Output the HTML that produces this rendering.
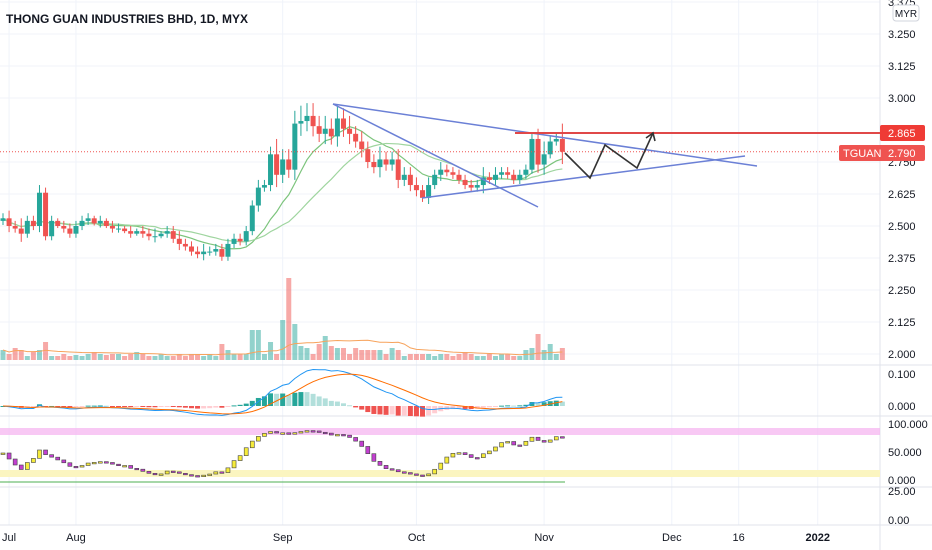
<!DOCTYPE html>
<html><head><meta charset="utf-8"><style>
html,body{margin:0;padding:0;background:#fff;}
svg{display:block;font-family:"Liberation Sans",sans-serif;}
</style></head><body>
<svg id="c" width="932" height="550" viewBox="0 0 932 550">
<rect width="932" height="550" fill="#fff"/>
<g id="grid"></g>
<g id="vol"></g>
<g id="main"></g>
<g id="macd"></g>
<g id="osc"></g>
<g id="draw">
  <line x1="333" y1="104" x2="757" y2="166" stroke="#6b80d6" stroke-width="1.5"/>
  <line x1="333" y1="104" x2="538" y2="207" stroke="#6b80d6" stroke-width="1.5"/>
  <line x1="422" y1="198" x2="745" y2="156" stroke="#6b80d6" stroke-width="1.5"/>
  <line x1="515" y1="133" x2="880" y2="133" stroke="#e04848" stroke-width="2"/>
  <polyline points="565,153 590,178 605,145 637,168 653,133" fill="none" stroke="#333" stroke-width="1.6"/>
  <polyline points="646,138 653,133 655,141" fill="none" stroke="#333" stroke-width="1.6"/>
</g>
<g id="axis"></g>
<text x="6" y="23" font-size="12" font-weight="bold" fill="#131722">THONG GUAN INDUSTRIES BHD, 1D, MYX</text>
</svg>
<script>
const NS="http://www.w3.org/2000/svg";
function el(parent,tag,attrs){const e=document.createElementNS(NS,tag);for(const k in attrs)e.setAttribute(k,attrs[k]);document.getElementById(parent).appendChild(e);return e;}

const closes=[2.53,2.50,2.49,2.47,2.52,2.50,2.63,2.46,
2.52,2.50,2.49,2.47,2.50,2.52,2.53,2.51,2.52,2.50,2.49,2.49,2.48,2.47,2.48,
2.47,2.46,2.46,2.47,2.48,2.45,2.43,2.42,2.40,
2.39,2.40,2.40,2.41,2.38,2.43,2.45,2.44,2.48,
2.58,2.65,2.66,2.78,2.70,2.76,2.72,2.90,2.91,2.93,2.89,2.86,2.88,2.85,2.92,2.88,2.86,2.83,2.80,
2.75,2.73,2.76,2.74,2.76,2.68,2.70,2.66,2.64,2.61,2.66,
2.70,2.72,2.71,2.70,2.68,2.66,2.65,2.66,2.69,2.68,2.70,2.71,2.70,2.68,2.70,2.72,
2.84,2.74,2.78,2.83,2.84,2.79];
const wicks=[0.02,0.03,0.02,0.04,0.02,0.02,0.03,0.02,0.02,0.01,0.02,0.02,0.02,0.02,0.02,0.01,0.02,0.01,0.02,0.02,0.01,0.02,0.01,
0.02,0.02,0.03,0.01,0.02,0.02,0.03,0.02,0.02,0.02,0.03,0.02,0.02,0.02,0.02,0.02,0.02,0.02,
0.02,0.03,0.02,0.03,0.06,0.04,0.04,0.05,0.06,0.05,0.05,0.04,0.05,0.04,0.05,0.04,0.05,0.03,0.04,
0.03,0.03,0.05,0.03,0.03,0.04,0.03,0.03,0.03,0.02,0.03,
0.02,0.03,0.02,0.02,0.02,0.02,0.02,0.02,0.04,0.02,0.03,0.02,0.02,0.02,0.02,0.02,
0.02,0.04,0.05,0.02,0.02,0.06];
const volumes=[10,6,12,10,4,8,10,18,4,4,6,4,5,4,6,8,6,5,6,6,4,6,8,6,4,4,6,4,4,6,4,6,6,4,6,4,16,10,6,6,6,
30,30,6,18,6,40,82,36,14,12,6,16,24,14,12,12,6,12,10,
10,10,10,6,12,10,4,6,6,6,6,4,6,6,4,6,8,6,4,4,6,4,6,6,4,4,10,12,26,10,16,6,12];
const priceTicks=["3.375","3.250","3.125","3.000","2.750","2.625","2.500","2.375","2.250","2.125","2.000"];
const timeLabels=["Jul","Aug","Sep","Oct","Nov","Dec","16","2022"];
const timeIdx=[1,12,46,68,89,110,121,134];

const X=i=>3+i*6.08;
const Y=p=>34+(3.25-p)*256;

timeLabels.forEach((t,k)=>{const x=X(timeIdx[k]);
  const g=el('grid','line',{x1:x,y1:0,x2:x,y2:525,stroke:'#f0f3fa','stroke-width':1});
  
  const tx=el('axis','text',{x:x,y:541,'font-size':11,'text-anchor':'middle',fill:'#131722','font-weight':t==='2022'?'bold':'normal'});
  tx.textContent=t;
});
priceTicks.forEach(t=>{const y=Y(parseFloat(t));
  const g=el('grid','line',{x1:0,y1:y,x2:880,y2:y,stroke:'#f0f3fa','stroke-width':1});
  
  const tx=el('axis','text',{x:888,y:y+4,'font-size':11,fill:'#131722'});tx.textContent=t;
  
});
[[0,932,365],[0,932,416],[0,932,487],[0,932,525]].forEach(s=>{
  const l=el('grid','line',{x1:s[0],y1:s[2],x2:s[1],y2:s[2],stroke:'#e0e3eb'});});
const av=el('grid','line',{x1:880,y1:0,x2:880,y2:550,stroke:'#e0e3eb'});

const vBase=360;
volumes.forEach((v,i)=>{const up=i===0||closes[i]>=closes[i-1];
  const r=el('vol','rect',{x:X(i)-2.5,y:vBase-v,width:5,height:v,fill:up?'#26a69a':'#ef5350','fill-opacity':0.5});
  });
let vp=[];volumes.forEach((v,i)=>{const s=volumes.slice(Math.max(0,i-19),i+1);vp.push(X(i)+','+(vBase-s.reduce((a,b)=>a+b,0)/s.length));});
const vm=el('vol','polyline',{points:vp.join(' '),fill:'none',stroke:'#f7a35c','stroke-width':1});

function sma(n){return closes.map((c,i)=>{const s=closes.slice(Math.max(0,i-n+1),i+1);return s.reduce((a,b)=>a+b,0)/s.length;});}
[[10,'#7cc47c'],[20,'#9fd59f']].forEach(m=>{const a=sma(m[0]);
  const l=el('main','polyline',{points:a.map((v,i)=>X(i)+','+Y(v)).join(' '),fill:'none',stroke:m[1],'stroke-width':1.2});
  });
closes.forEach((c,i)=>{const o=i===0?2.52:closes[i-1];const up=c>=o;const col=up?'#26a69a':'#ef5350';
  const hi=Math.max(o,c)+wicks[i],lo=Math.min(o,c)-wicks[i]*0.8;
  const w=el('main','line',{x1:X(i),y1:Y(hi),x2:X(i),y2:Y(lo),stroke:col,'stroke-width':1});
  
  const b=el('main','rect',{x:X(i)-2.5,y:Y(Math.max(o,c)),width:5,height:Math.max(1,Math.abs(Y(o)-Y(c))),fill:col});
  });
const dl=el('main','line',{x1:0,y1:Y(2.79),x2:838,y2:Y(2.79),stroke:'#ef5350','stroke-dasharray':'1 2','stroke-width':1});


function ema(a,n){const k=2/(n+1);let r=[];a.forEach((v,i)=>r.push(i?v*k+r[i-1]*(1-k):v));return r;}
const e12=ema(closes,12),e26=ema(closes,26);const macd=e12.map((v,i)=>v-e26[i]);const sig=ema(macd,9);
const MY=v=>406-v*320;
macd.forEach((m,i)=>{const h=m-sig[i];const ph=i?macd[i-1]-sig[i-1]:h;
  const col=h>=0?(h>=ph?'#26a69a':'#b2dfdb'):(h<=ph?'#ef5350':'#ffcdd2');
  const r=el('macd','rect',{x:X(i)-2.5,y:Math.min(MY(h),406),width:5,height:Math.max(1,Math.abs(MY(h)-406)),fill:col});
  });
const ml=el('macd','polyline',{points:macd.map((v,i)=>X(i)+','+MY(v)).join(' '),fill:'none',stroke:'#2196f3','stroke-width':1});

const sl=el('macd','polyline',{points:sig.map((v,i)=>X(i)+','+MY(v)).join(' '),fill:'none',stroke:'#ff6d00','stroke-width':1});

[["0.100",374],["0.000",406]].forEach(t=>{const tx=el('axis','text',{x:888,y:t[1]+4,'font-size':11,fill:'#131722'});tx.textContent=t[0];});

// stochastic oscillator
const OY=v=>477-v*0.48;
const pb=el('osc','rect',{x:0,y:428,width:880,height:7,fill:'#f5b5f0','fill-opacity':0.75});
const yb=el('osc','rect',{x:0,y:470,width:880,height:7,fill:'#fbf5c0'});
const gl=el('osc','line',{x1:0,y1:482,x2:565,y2:482,stroke:'#4caf50'});
let kraw=closes.map((c,i)=>{const w=closes.slice(Math.max(0,i-13),i+1);const hi=Math.max(...w),lo=Math.min(...w);return hi>lo?100*(c-lo)/(hi-lo):50;});
const ks=ema(ema(kraw,3),3);
ks.forEach((v,i)=>{const p=i?ks[i-1]:v;const up=v>=p;
  const r=el('osc','rect',{x:X(i)-2,y:OY(Math.max(v,p)),width:4,height:Math.max(1.5,Math.abs(OY(v)-OY(p))),fill:up?'#f5eb3b':'#c23fd0',stroke:'#444','stroke-width':0.6});
  });
[["100.000",424],["50.000",452],["0.000",480],["25.00",491],["0.00",520]].forEach(t=>{const tx=el('axis','text',{x:888,y:t[1]+4,'font-size':11,fill:'#131722'});tx.textContent=t[0];});

const myr=el('axis','rect',{x:893,y:5,width:26,height:16,rx:3,fill:'#fff',stroke:'#d1d4dc'});
const mt=el('axis','text',{x:906,y:17,'font-size':10,'text-anchor':'middle',fill:'#131722'});mt.textContent='MYR';
const r1=el('axis','rect',{x:880,y:125,width:45,height:16,rx:2,fill:'#ef3b35'});
const t1=el('axis','text',{x:888,y:137,'font-size':11,fill:'#fff'});t1.textContent='2.865';
const r2=el('axis','rect',{x:839,y:145,width:86,height:16,rx:2,fill:'#ef5350'});
const t2=el('axis','text',{x:843,y:157,'font-size':11,fill:'#fff'});t2.textContent='TGUAN';
const t3=el('axis','text',{x:888,y:157,'font-size':11,fill:'#fff'});t3.textContent='2.790';
</script>
</body></html>
